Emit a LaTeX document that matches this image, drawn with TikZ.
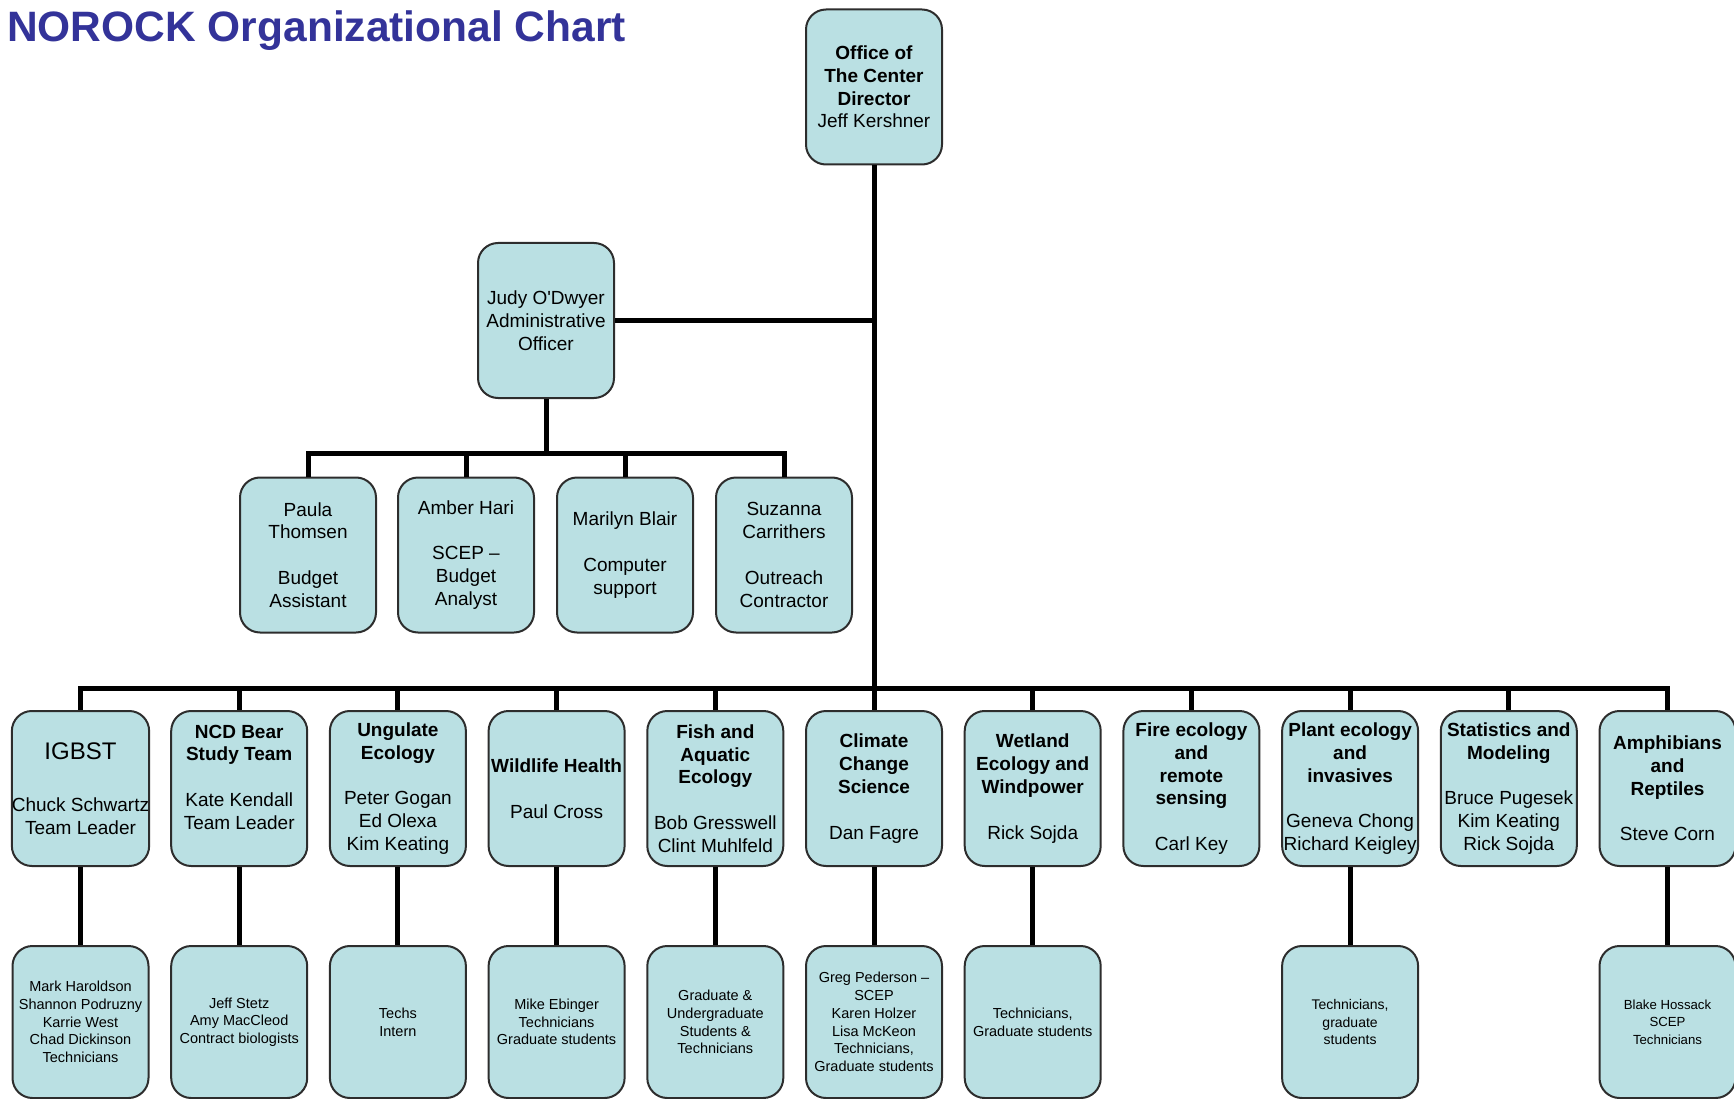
\documentclass[tikz,border=0pt]{standalone}
\usepackage{fontspec}
\setmainfont{Liberation Sans}
\newfontfamily\plainsans{Liberation Sans}
\definecolor{boxfill}{RGB}{186,224,227}
\definecolor{titleblue}{RGB}{51,51,153}
\definecolor{boxline}{RGB}{45,45,45}
\begin{document}
\begin{tikzpicture}[x=1pt,y=-1pt,
  orgbox/.style={draw=boxline, line width=2pt, fill=boxfill, rounded corners=20pt,
    minimum width=136pt, minimum height=155pt, inner sep=0pt, align=center,
    font=\fontsize{19}{22.8}\selectfont},
  smallbox/.style={orgbox, minimum height=152pt, font=\fontsize{14.5}{17.7}\selectfont},
  link/.style={line width=5pt, draw=black, line join=miter}
]
\useasboundingbox (0,0) rectangle (1734,1099);

\node[anchor=base west, inner sep=0pt, text=titleblue,
  font=\fontsize{42.5}{42.5}\selectfont\bfseries] (title) at (7,42) {NOROCK Organizational Chart};

% top
\node[orgbox] (dir) at (874,87) {\textbf{Office of}\\\textbf{The Center}\\\textbf{Director}\\Jeff Kershner};
\node[orgbox] (judy) at (546,320.5) {{\plainsans Judy O'Dwyer}\\Administrative\\Officer};

% admin staff
\node[orgbox] (paula) at (308,555) {Paula\\Thomsen\\[22.8pt]Budget\\Assistant};
\node[orgbox] (amber) at (466,555) {Amber Hari\\[22.8pt]SCEP –\\Budget\\Analyst};
\node[orgbox] (marilyn) at (625,555) {Marilyn Blair\\[22.8pt]Computer\\support};
\node[orgbox] (suzanna) at (784,555) {Suzanna\\Carrithers\\[22.8pt]Outreach\\Contractor};

% teams
\node[orgbox] (c0) at (80.5,788.5) {{\fontsize{24}{24}\selectfont IGBST}\\[29pt]Chuck Schwartz\\Team Leader};
\node[orgbox] (c1) at (239.2,788.5) {\textbf{NCD Bear}\\\textbf{Study Team}\\[22.8pt]Kate Kendall\\Team Leader\\\mbox{}};
\node[orgbox] (c2) at (397.9,788.5) {\textbf{Ungulate}\\\textbf{Ecology}\\[22.8pt]Peter Gogan\\Ed Olexa\\Kim Keating};
\node[orgbox] (c3) at (556.6,788.5) {\textbf{Wildlife Health}\\[22.8pt]Paul Cross};
\node[orgbox] (c4) at (715.3,788.5) {\textbf{Fish and}\\\textbf{Aquatic}\\\textbf{Ecology}\\[22.8pt]Bob Gresswell\\Clint Muhlfeld};
\node[orgbox] (c5) at (874,788.5) {\textbf{Climate}\\\textbf{Change}\\\textbf{Science}\\[22.8pt]Dan Fagre};
\node[orgbox] (c6) at (1032.7,788.5) {\textbf{Wetland}\\\textbf{Ecology and}\\\textbf{Windpower}\\[22.8pt]Rick Sojda};
\node[orgbox] (c7) at (1191.4,788.5) {\textbf{Fire ecology}\\\textbf{and}\\\textbf{remote}\\\textbf{sensing}\\[22.8pt]Carl Key};
\node[orgbox] (c8) at (1350.1,788.5) {\textbf{Plant ecology}\\\textbf{and}\\\textbf{invasives}\\[22.8pt]Geneva Chong\\Richard Keigley};
\node[orgbox] (c9) at (1508.8,788.5) {\textbf{Statistics and}\\\textbf{Modeling}\\[22.8pt]Bruce Pugesek\\Kim Keating\\Rick Sojda};
\node[orgbox] (c10) at (1667.5,788.5) {\textbf{Amphibians}\\\textbf{and}\\\textbf{Reptiles}\\[22.8pt]Steve Corn};

% staff under teams
\node[smallbox] (d0) at (80.5,1022) {Mark Haroldson\\Shannon Podruzny\\Karrie West\\Chad Dickinson\\Technicians};
\node[smallbox] (d1) at (239.2,1022) {Jeff Stetz\\Amy MacCleod\\Contract biologists};
\node[smallbox] (d2) at (397.9,1022) {Techs\\Intern};
\node[smallbox] (d3) at (556.6,1022) {Mike Ebinger\\Technicians\\Graduate students};
\node[smallbox] (d4) at (715.3,1022) {Graduate \&\\Undergraduate\\Students \&\\Technicians};
\node[smallbox] (d5) at (874,1022) {Greg Pederson –\\SCEP\\Karen Holzer\\Lisa McKeon\\Technicians,\\Graduate students};
\node[smallbox] (d6) at (1032.7,1022) {Technicians,\\Graduate students};
\node[smallbox, font=\fontsize{14}{17.7}\selectfont] (d8) at (1350.1,1022) {Technicians,\\graduate\\students};
\node[smallbox, font=\fontsize{13.2}{17.7}\selectfont] (d10) at (1667.5,1022) {Blake Hossack\\SCEP\\Technicians};

% connectors
\coordinate (bus2) at (546,453);
\coordinate (bus3) at (874,688);
\draw[link] (dir.south) -- (bus3);
\draw[link] (judy.east) -- (judy.east -| dir.south);
\draw[link] (judy.south) -- (bus2);
\foreach \n in {paula,amber,marilyn,suzanna} \draw[link] (bus2) -| (\n.north);
\foreach \n in {c0,c1,c2,c3,c4,c6,c7,c8,c9,c10} \draw[link] (bus3) -| (\n.north);
\draw[link] (bus3) -- (c5.north);
\foreach \i in {0,1,2,3,4,5,6,8,10} \draw[link] (c\i.south) -- (d\i.north);
\end{tikzpicture}
\end{document}
